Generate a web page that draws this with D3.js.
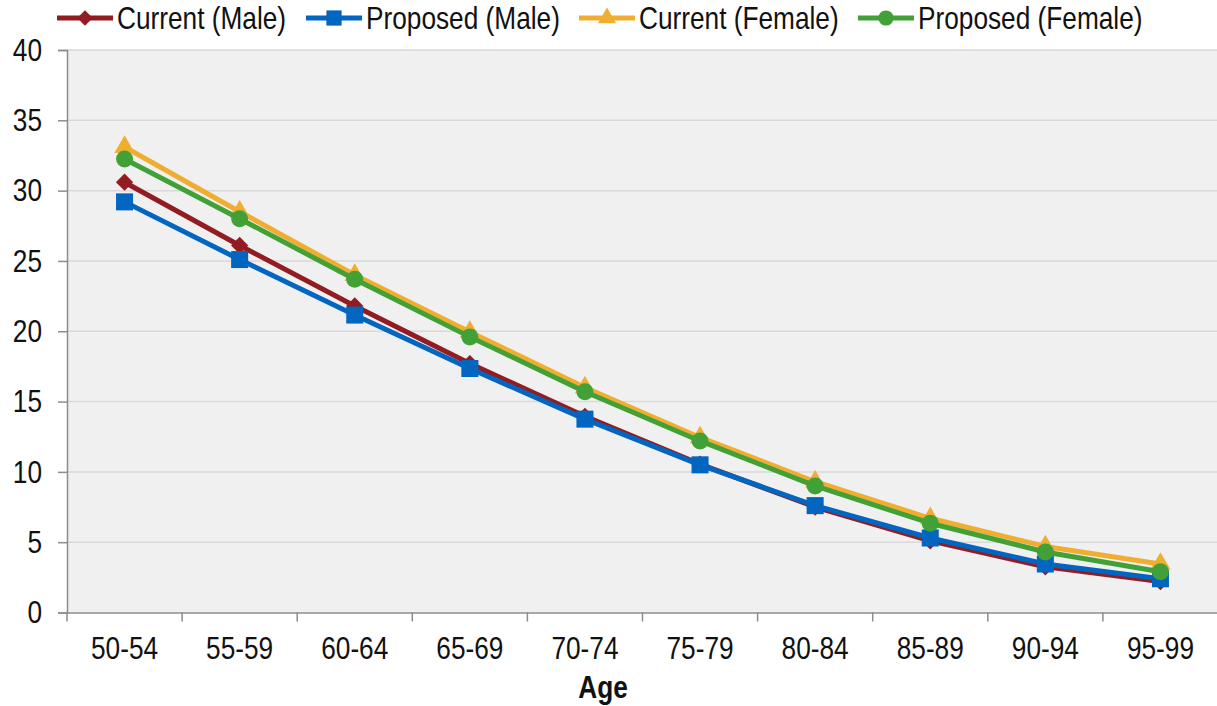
<!DOCTYPE html>
<html><head><meta charset="utf-8">
<script src="https://cdn.jsdelivr.net/npm/d3@7/dist/d3.min.js"></script>
<style>
html,body{margin:0;padding:0;background:#fff;}
svg{display:block;font-family:"Liberation Sans",Arial,sans-serif;}
</style></head>
<body><svg id="chart" width="1217" height="706"></svg>
<script>
const categories = ["50-54","55-59","60-64","65-69","70-74","75-79","80-84","85-89","90-94","95-99"];
const currentMale = [30.6,26.1,21.8,17.7,13.95,10.55,7.5,5.1,3.25,2.2];
const proposedMale = [29.2,25.1,21.15,17.35,13.75,10.5,7.6,5.3,3.45,2.4];
const currentFemale = [33.1,28.5,24.0,19.95,16.0,12.45,9.3,6.7,4.7,3.45];
const proposedFemale = [32.25,28.0,23.7,19.6,15.7,12.2,9.0,6.35,4.3,2.9];
const yTicks = [0,5,10,15,20,25,30,35,40];
const seriesNames = ["Current (Male)","Proposed (Male)","Current (Female)","Proposed (Female)"];
const xTitle = "Age";

const seriesData = [currentMale, proposedMale, currentFemale, proposedFemale];
const colors = ["#931c22","#0265c0","#f0ae31","#41a036"];
const symbols = [d3.symbolDiamond2, d3.symbolSquare, d3.symbolTriangle, d3.symbolCircle];
const symSizes = [190, 290, 180, 227];
const SX = 0.82; // condense factor to mimic a narrow font
const FS = 32;

const svg = d3.select("#chart");
const m = {left:67, top:50};
const W = 1217;
const x = d3.scaleBand().domain(categories).range([m.left, 1218]);
const y = d3.scaleLinear().domain([0,40]).range([612.5, m.top]);

svg.append("rect").attr("x", m.left).attr("y", y(40)).attr("width", 1218-m.left).attr("height", y(0)-y(40)).attr("fill","#f0f0f0");

svg.append("g").selectAll("line").data(yTicks.filter(d=>d>0)).join("line")
  .attr("x1", m.left).attr("x2", W).attr("y1", d=>y(d)).attr("y2", d=>y(d))
  .attr("stroke","#d9d9d9").attr("stroke-width",1.5);

// y axis
const yAxis = svg.append("g").attr("transform",`translate(${m.left},0)`)
  .call(d3.axisLeft(y).tickValues(yTicks).tickSize(9).tickPadding(0));
yAxis.select(".domain").attr("stroke","#8c8c8c").attr("stroke-width",1.5);
yAxis.selectAll(".tick line").attr("stroke","#8c8c8c").attr("stroke-width",1.5);
yAxis.selectAll(".tick text").attr("font-size",FS).attr("fill","#111")
  .attr("font-family","inherit").attr("x", -25/SX).attr("transform",`scale(${SX},1)`);

// x axis
const xAxis = svg.append("g").attr("transform",`translate(0,${y(0)})`)
  .call(d3.axisBottom(x).tickSize(0).tickPadding(24));
xAxis.select(".domain").attr("stroke","#8c8c8c").attr("stroke-width",1.5);
xAxis.selectAll(".tick text").attr("font-size",FS).attr("fill","#111")
  .attr("font-family","inherit").attr("transform",`scale(${SX},1)`);
const bounds = categories.map(c=>x(c)).concat([x(categories[categories.length-1])+x.bandwidth()]);
svg.append("g").selectAll("line").data(bounds).join("line")
  .attr("x1",d=>d).attr("x2",d=>d).attr("y1",y(0)).attr("y2",y(0)+9)
  .attr("stroke","#8c8c8c").attr("stroke-width",1.5);

svg.append("g").attr("transform",`translate(603,698) scale(${SX},1)`)
  .append("text").attr("text-anchor","middle")
  .attr("font-size",FS).attr("font-weight","bold").attr("fill","#111").text(xTitle);

const cx = c => x(c) + x.bandwidth()/2;
const line = d3.line().x((d,i)=>cx(categories[i])).y(d=>y(d));
seriesData.forEach((vals, si) => {
  const g = svg.append("g");
  g.append("path").datum(vals).attr("d", line).attr("fill","none")
    .attr("stroke", colors[si]).attr("stroke-width",5).attr("stroke-linejoin","round");
  g.selectAll("path.mk").data(vals).join("path").attr("class","mk")
    .attr("transform",(d,i)=>`translate(${cx(categories[i])},${y(d)})`)
    .attr("d", d3.symbol().type(symbols[si]).size(symSizes[si])())
    .attr("fill", colors[si]);
});

// legend
const legendX = [57, 306, 579, 858];
const ly = 18;
seriesNames.forEach((name, i) => {
  const g = svg.append("g").attr("transform",`translate(${legendX[i]},${ly})`);
  g.append("line").attr("x1",0).attr("x2",56).attr("y1",0).attr("y2",0)
    .attr("stroke",colors[i]).attr("stroke-width",5);
  g.append("path").attr("transform","translate(28,0)")
    .attr("d", d3.symbol().type(symbols[i]).size(symSizes[i]*0.8)()).attr("fill",colors[i]);
  g.append("g").attr("transform",`translate(60,0) scale(${SX},1)`)
    .append("text").attr("dy","0.35em").attr("font-size",FS)
    .attr("fill","#111").text(name);
});
</script></body></html>
